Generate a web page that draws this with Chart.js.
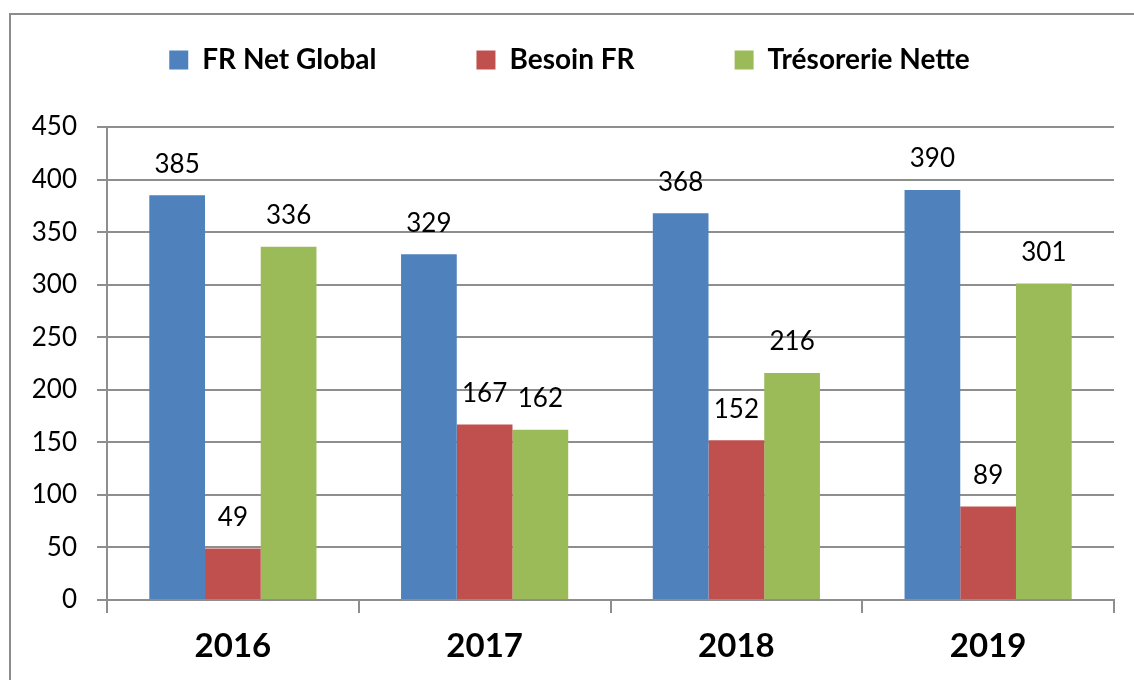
<!DOCTYPE html>
<html>
<head>
<meta charset="utf-8">
<script src="https://cdn.jsdelivr.net/npm/chart.js@4/dist/chart.umd.min.js"></script>
<style>
  html, body { margin: 0; padding: 0; background: #fff; overflow: hidden; }
  #wrap { position: relative; width: 1134px; height: 680px; overflow: hidden; }
  #frame { position: absolute; left: 9px; top: 13px; width: 1300px; height: 800px; border: 2px solid #8c8c8c; }
  #chart { position: absolute; left: 0; top: 0; }
</style>
</head>
<body>
<div id="wrap">
  <div id="frame"></div>
  <canvas id="chart" width="1134" height="680"></canvas>
</div>
<script>
const years = ['2016', '2017', '2018', '2019'];
const frNetGlobal = [385, 329, 368, 390];
const besoinFR = [49, 167, 152, 89];
const tresorerieNette = [336, 162, 216, 301];

const gridColor = '#8e8e8e';

// fixed legend height so the plot area starts where the original does
const legendPlace = {
  id: 'legendPlace',
  beforeInit(chart) {
    const legend = chart.legend;
    if (!legend) return;
    const fit = legend.fit;
    legend.fit = function () {
      fit.call(this);
      this.height = 181;
    };
  },
};

// value labels above each bar
const barValues = {
  id: 'barValues',
  afterDatasetsDraw(chart) {
    const ctx = chart.ctx;
    ctx.save();
    ctx.font = '26px Lato';
    ctx.fillStyle = '#000';
    ctx.textAlign = 'center';
    ctx.textBaseline = 'middle';
    chart.data.datasets.forEach((ds, i) => {
      chart.getDatasetMeta(i).data.forEach((bar, j) => {
        ctx.fillText(String(ds.data[j]), bar.x, bar.y - 31);
      });
    });
    ctx.restore();
  },
};

new Chart(document.getElementById('chart').getContext('2d'), {
  type: 'bar',
  data: {
    labels: years,
    datasets: [
      { label: 'FR Net Global', data: frNetGlobal, backgroundColor: '#4F81BD' },
      { label: 'Besoin FR', data: besoinFR, backgroundColor: '#C0504D' },
      { label: 'Trésorerie Nette', data: tresorerieNette, backgroundColor: '#9BBB59' },
    ],
  },
  options: {
    responsive: false,
    animation: false,
    layout: { padding: { left: 25, right: 20, top: -54, bottom: 0 } },
    datasets: {
      bar: { categoryPercentage: 0.664, barPercentage: 1 },
    },
    plugins: {
      legend: {
        position: 'top',
        labels: {
          boxWidth: 19,
          boxHeight: 19,
          padding: 100,
          color: '#000',
          font: { family: 'Lato', size: 28, weight: 'bold' },
        },
      },
      tooltip: { enabled: false },
    },
    scales: {
      x: {
        afterFit(scale) { scale.height = 80; },
        grid: {
          drawOnChartArea: false,
          color: gridColor,
          lineWidth: 2,
          tickLength: 13,
        },
        border: { color: gridColor, width: 2 },
        ticks: {
          color: '#000',
          padding: 14,
          font: { family: 'Lato', size: 33, weight: 'bold' },
        },
      },
      y: {
        min: 0,
        max: 450,
        afterFit(scale) { scale.width = 82; },
        grid: { color: gridColor, lineWidth: 2, tickLength: 10 },
        border: { color: gridColor, width: 2 },
        ticks: {
          stepSize: 50,
          color: '#000',
          padding: 20,
          font: { family: 'Lato', size: 26 },
        },
      },
    },
  },
  plugins: [legendPlace, barValues],
});
</script>
</body>
</html>
